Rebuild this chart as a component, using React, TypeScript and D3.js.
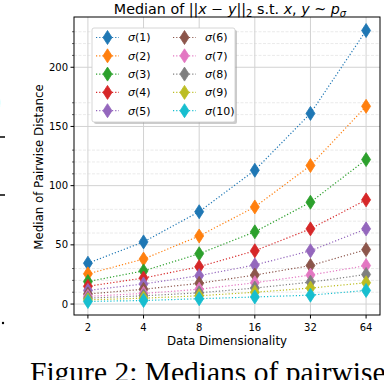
import React, {useEffect, useRef} from 'react';
import * as d3 from 'd3';

const dims = [2, 4, 8, 16, 32, 64];
const names = ['σ(1)', 'σ(2)', 'σ(3)', 'σ(4)', 'σ(5)', 'σ(6)', 'σ(7)', 'σ(8)', 'σ(9)', 'σ(10)'];
const s1 = [34.5, 52.5, 78, 113, 161, 231];
const s2 = [25.5, 38, 57.5, 82, 117, 167];
const s3 = [19, 28, 42.5, 61, 86, 122];
const s4 = [15, 22, 31.5, 45, 63.5, 88];
const s5 = [11.5, 17, 24, 33, 45, 63.5];
const s6 = [8.5, 12.5, 17.5, 24.5, 32.5, 46];
const s7 = [6.5, 9, 12.5, 18, 24.5, 32.5];
const s8 = [5, 7, 9.5, 13.5, 18.5, 25];
const s9 = [3.5, 5, 7, 10, 13.5, 18];
const s10 = [2.2, 3, 4.5, 6, 7.5, 11.5];
const series = [s1, s2, s3, s4, s5, s6, s7, s8, s9, s10];
const yTicks = [0, 50, 100, 150, 200];
const yMinor = [10, 20, 30, 60, 70, 80, 110, 120, 130, 160, 170, 210, 220, 230];

const colors = d3.schemeCategory10;
const font = 'DejaVu Sans';

export default function App() {
  const ref = useRef<SVGSVGElement>(null);

  useEffect(() => {
    const svg = d3.select(ref.current);
    svg.selectAll('*').remove();

    const left = 74, right = 380, top = 17, bottom = 315;
    const all = series.flat();
    const lo = d3.min(all)!, hi = d3.max(all)!;
    const pad = (hi - lo) * 0.05;

    const x = d3.scaleLog().base(2)
      .domain([Math.pow(2, 0.75), Math.pow(2, 6.25)])
      .range([left, right]);
    const y = d3.scaleLinear()
      .domain([lo - pad, hi + pad])
      .range([bottom, top]);

    // grid
    const grid = svg.append('g');
    yMinor.forEach(v => {
      grid.append('line')
        .attr('x1', left).attr('x2', right)
        .attr('y1', y(v)).attr('y2', y(v))
        .attr('stroke', '#e4e4e4').attr('stroke-width', 0.8)
        .attr('stroke-dasharray', '3,1.5');
    });
    yTicks.forEach(v => {
      grid.append('line')
        .attr('x1', left).attr('x2', right)
        .attr('y1', y(v)).attr('y2', y(v))
        .attr('stroke', '#d2d2d2').attr('stroke-width', 1);
    });
    dims.forEach(v => {
      grid.append('line')
        .attr('x1', x(v)).attr('x2', x(v))
        .attr('y1', top).attr('y2', bottom)
        .attr('stroke', '#d2d2d2').attr('stroke-width', 1);
    });

    // series
    const line = d3.line<number>()
      .x((d, i) => x(dims[i]))
      .y(d => y(d));
    const diamond = (cx: number, cy: number) =>
      `M${cx},${cy - 7}L${cx + 4.5},${cy}L${cx},${cy + 7}L${cx - 4.5},${cy}Z`;

    series.forEach((vals, k) => {
      const g = svg.append('g');
      g.append('path')
        .attr('d', line(vals))
        .attr('fill', 'none')
        .attr('stroke', colors[k])
        .attr('stroke-width', 1.2)
        .attr('stroke-dasharray', '1.2,2');
      g.selectAll('path.m')
        .data(vals)
        .enter()
        .append('path')
        .attr('class', 'm')
        .attr('d', (d, i) => diamond(x(dims[i]), y(d)))
        .attr('fill', colors[k])
        .attr('stroke', colors[k])
        .attr('stroke-width', 0.8);
    });

    // spines
    svg.append('rect')
      .attr('x', left).attr('y', top)
      .attr('width', right - left).attr('height', bottom - top)
      .attr('fill', 'none').attr('stroke', '#000').attr('stroke-width', 1);

    // ticks
    const ax = svg.append('g').attr('font-family', font).attr('font-size', 10).attr('fill', '#000');
    yTicks.forEach(v => {
      ax.append('line').attr('x1', left - 3.5).attr('x2', left).attr('y1', y(v)).attr('y2', y(v)).attr('stroke', '#000');
      ax.append('text').attr('x', left - 6).attr('y', y(v)).attr('dy', '0.35em')
        .attr('text-anchor', 'end').text(v);
    });
    yMinor.forEach(v => {
      ax.append('line').attr('x1', left - 2).attr('x2', left).attr('y1', y(v)).attr('y2', y(v)).attr('stroke', '#000').attr('stroke-width', 0.6);
    });
    dims.forEach(v => {
      ax.append('line').attr('x1', x(v)).attr('x2', x(v)).attr('y1', bottom).attr('y2', bottom + 3.5).attr('stroke', '#000');
      ax.append('text').attr('x', x(v)).attr('y', bottom + 16)
        .attr('text-anchor', 'middle').text(v);
    });

    // labels
    svg.append('text')
      .attr('x', (left + right) / 2).attr('y', 345)
      .attr('text-anchor', 'middle')
      .attr('font-family', font).attr('font-size', 11.8)
      .text('Data Dimensionality');
    svg.append('text')
      .attr('transform', `translate(${43},${167}) rotate(-90)`)
      .attr('text-anchor', 'middle')
      .attr('font-family', font).attr('font-size', 11.8)
      .text('Median of Pairwise Distance');

    // title
    const t = svg.append('text')
      .attr('x', (left + right) / 2 + 3).attr('y', 13.5)
      .attr('text-anchor', 'middle')
      .attr('font-family', font).attr('font-size', 14.3);
    const parts: [string, boolean, boolean][] = [
      ['Median of ||', false, false], ['x', true, false], [' − ', false, false],
      ['y', true, false], ['||', false, false], ['2', false, true],
      [' s.t. ', false, false], ['x', true, false], [', ', false, false],
      ['y', true, false], [' ~ ', false, false], ['p', true, false], ['σ', true, true]
    ];
    let sub = false;
    parts.forEach(([s, it, sb]) => {
      const ts = t.append('tspan').text(s).attr('font-style', it ? 'italic' : 'normal');
      if (sb) ts.attr('font-size', 10);
      if (sb && !sub) ts.attr('dy', 3);
      if (!sb && sub) ts.attr('dy', -3);
      sub = sb;
    });

    // legend
    const lg = svg.append('g');
    const lx = 92, ly = 28, lw = 143, lh = 94;
    lg.append('rect').attr('x', lx + 2).attr('y', ly + 2).attr('width', lw).attr('height', lh)
      .attr('rx', 2).attr('fill', '#999').attr('opacity', 0.5);
    lg.append('rect').attr('x', lx).attr('y', ly).attr('width', lw).attr('height', lh)
      .attr('rx', 2).attr('fill', '#fff').attr('stroke', '#ccc').attr('stroke-width', 0.8);
    names.forEach((n, k) => {
      const col = Math.floor(k / 5), row = k % 5;
      const hx = lx + 4 + col * 77, hy = ly + 9.5 + row * 18.3;
      lg.append('line').attr('x1', hx).attr('x2', hx + 23).attr('y1', hy).attr('y2', hy)
        .attr('stroke', colors[k]).attr('stroke-width', 1.2).attr('stroke-dasharray', '1.2,2');
      lg.append('path').attr('d', diamond(hx + 11.5, hy)).attr('fill', colors[k])
        .attr('stroke', colors[k]).attr('stroke-width', 0.8);
      const tx = lg.append('text').attr('x', hx + 32).attr('y', hy).attr('dy', '0.36em')
        .attr('font-family', font).attr('font-size', 11);
      tx.append('tspan').attr('font-style', 'italic').text(n.slice(0, 1));
      tx.append('tspan').text(n.slice(1));
    });

    // page fragments around the figure
    const page = svg.append('g').attr('font-family', 'Liberation Serif').attr('fill', '#000');
    page.append('text').attr('x', -9).attr('y', 110).attr('font-size', 30).text(')');
    page.append('line').attr('x1', 0).attr('x2', 5).attr('y1', 137).attr('y2', 137).attr('stroke', '#000').attr('stroke-width', 1.5);
    page.append('line').attr('x1', 0).attr('x2', 5).attr('y1', 195).attr('y2', 195).attr('stroke', '#000').attr('stroke-width', 1.5);
    page.append('circle').attr('cx', 3).attr('cy', 323).attr('r', 1.2);
    page.append('text')
      .attr('x', 30).attr('y', 382)
      .attr('font-size', 29.5)
      .text('Figure 2: Medians of pairwise');
  }, []);

  return (
    <svg ref={ref} width={384} height={380}
      style={{position: 'absolute', left: 0, top: 0, background: '#fff'}} />
  );
}
